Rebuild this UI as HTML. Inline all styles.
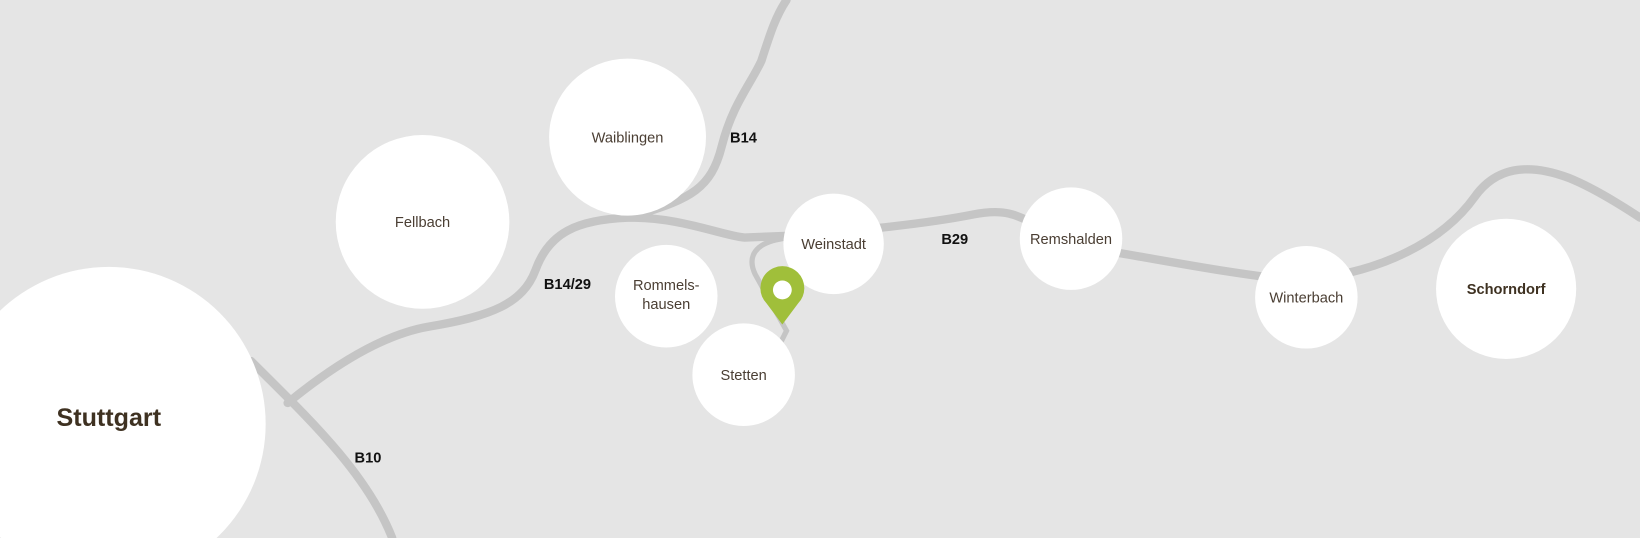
<!DOCTYPE html>
<html><head><meta charset="utf-8"><style>
html,body{margin:0;padding:0;background:#e5e5e5;width:1640px;height:538px;overflow:hidden;}
svg{display:block;}
text{font-family:"Liberation Sans",sans-serif;}
.c{fill:#fff;}
.l{font-size:14px;fill:#4a3e33;text-anchor:middle;}
.r{font-size:14px;font-weight:bold;fill:#111;}
</style></head><body>
<svg width="1640" height="538" viewBox="0 0 1568 514" preserveAspectRatio="none">
<rect width="1568" height="514" fill="#e5e5e5"/>
<g fill="none" stroke="#c5c5c5" stroke-width="8" stroke-linecap="round">
<path d="M240,345 C290,395 350,450 375,514"/>
<path d="M275,385 C330,340 375,318 410,312 C470,302 500,290 512,258 C525,222 552,210 600,208 C650,207 690,225 712,227 L760,225 C800,222 880,215 930,205 C960,199 972,205 990,215 L1060,240 C1120,250 1180,262 1240,268 C1320,262 1380,230 1410,188 C1430,160 1460,155 1500,170 C1530,182 1568,208 1568,208"/>
<path d="M610,205 C660,190 680,180 690,140 C700,100 718,80 728,58 C737,30 742,15 752,0"/>
<path d="M748,228 C722,232 714,245 722,262 L752,316 L746,328" stroke-width="5"/>
</g>
<circle class="c" cx="104" cy="405" r="150"/>
<circle class="c" cx="404" cy="212" r="83"/>
<circle class="c" cx="600" cy="131" r="75"/>
<circle class="c" cx="797" cy="233" r="48"/>
<circle class="c" cx="637" cy="283" r="49"/>
<circle class="c" cx="711" cy="358" r="49"/>
<circle class="c" cx="1024" cy="228" r="49"/>
<circle class="c" cx="1249" cy="284" r="49"/>
<circle class="c" cx="1440" cy="276" r="67"/>
<path d="M748,310 L733,290 A21,21 0 1 1 763,290 Z" fill="#a0bf3a"/>
<circle cx="748" cy="277" r="9" fill="#fff"/>
<text x="104" y="407" style="font-size:24px;font-weight:bold;fill:#3e3121;text-anchor:middle">Stuttgart</text>
<text class="l" x="404" y="217">Fellbach</text>
<text class="l" x="600" y="136">Waiblingen</text>
<text class="l" x="797" y="238">Weinstadt</text>
<text class="l" x="637" y="277">Rommels-</text>
<text class="l" x="637" y="295">hausen</text>
<text class="l" x="711" y="363">Stetten</text>
<text class="l" x="1024" y="233">Remshalden</text>
<text class="l" x="1249" y="289">Winterbach</text>
<text x="1440" y="281" style="font-size:14px;font-weight:bold;fill:#3e3121;text-anchor:middle">Schorndorf</text>
<text class="r" x="698" y="136">B14</text>
<text class="r" x="520" y="276">B14/29</text>
<text class="r" x="900" y="233">B29</text>
<text class="r" x="339" y="442">B10</text>
</svg>
</body></html>
